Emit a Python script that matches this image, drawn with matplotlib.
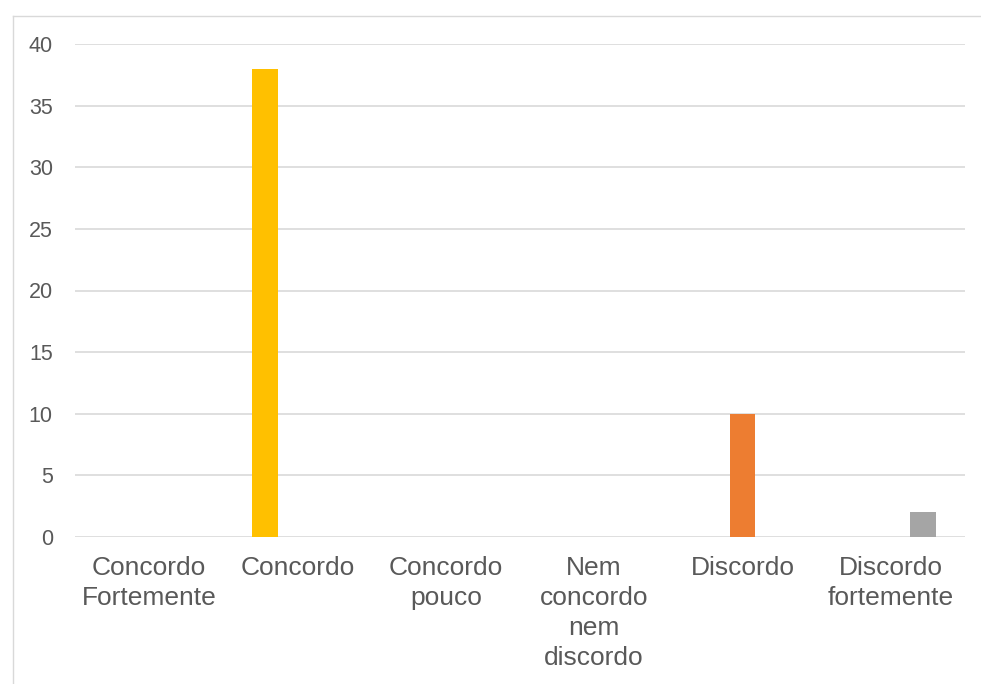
import matplotlib
matplotlib.use("Agg")
import matplotlib.pyplot as plt
import numpy as np
from matplotlib.lines import Line2D

categories = ["Concordo\nFortemente", "Concordo", "Concordo\npouco",
              "Nem\nconcordo\nnem\ndiscordo", "Discordo", "Discordo\nfortemente"]
series_1 = [0, 38, 0, 0, 0, 0]
series_2 = [0, 0, 0, 0, 10, 0]
series_3 = [0, 0, 0, 0, 0, 2]
y_ticks = [0, 5, 10, 15, 20, 25, 30, 35, 40]

colors = ["#FFC000", "#ED7D31", "#A5A5A5"]
W, H = 981, 684
fig = plt.figure(figsize=(W / 100, H / 100), dpi=100)
plt.rcParams['font.family'] = ['Liberation Sans', 'DejaVu Sans']

ax = fig.add_axes([75 / W, (H - 537) / H, (965 - 75) / W, (537 - 44) / H])
x = np.arange(len(categories))
bw = 0.175
off = 0.216
for s, o, c in zip([series_1, series_2, series_3], [-off, 0, off], colors):
    ax.bar(x + o, s, width=bw, color=c, zorder=3)

ax.set_xlim(-0.5, len(categories) - 0.5)
ax.set_ylim(0, 40)
ax.set_yticks(y_ticks)
ax.set_yticklabels([str(t) for t in y_ticks])
ax.set_xticks(x)
ax.set_xticklabels(categories, fontsize=19, color="#595959", linespacing=1.3)
for lab in ax.get_yticklabels():
    lab.set_fontsize(15.5)
    lab.set_color("#595959")
ax.tick_params(axis='y', length=0, pad=16)
ax.tick_params(axis='x', length=0, pad=14)
ax.yaxis.grid(True, color="#D9D9D9", linewidth=1.2, zorder=0)
ax.set_axisbelow(True)
for sp in ax.spines.values():
    sp.set_visible(False)

# chart frame
fig.add_artist(Line2D([12.5 / W, 12.5 / W], [0, (H - 15.5) / H], color="#D9D9D9", linewidth=1.0))
fig.add_artist(Line2D([12.5 / W, 1], [(H - 15.5) / H, (H - 15.5) / H], color="#D9D9D9", linewidth=1.0))

fig.savefig("out.png", dpi=100, facecolor="white")
